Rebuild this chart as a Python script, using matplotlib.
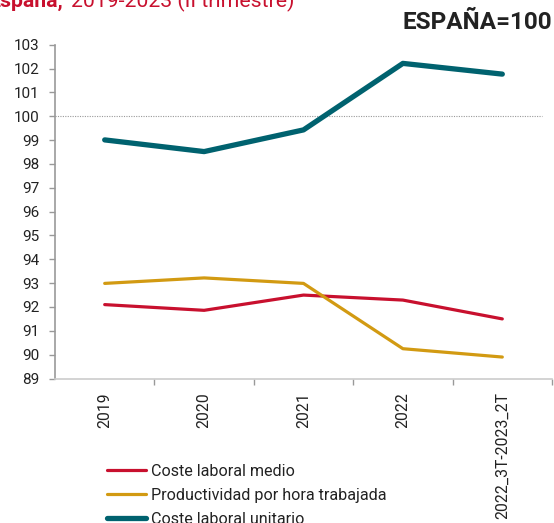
import matplotlib
matplotlib.use("Agg")
import matplotlib.pyplot as plt
import numpy as np

plt.rcParams['font.family'] = ['Roboto', 'DejaVu Sans']

categories = ["2019", "2020", "2021", "2022", "2022_3T-2023_2T"]
coste_medio = [92.10, 91.86, 92.50, 92.29, 91.50]
productividad = [92.99, 93.22, 92.99, 90.25, 89.90]
coste_unitario = [99.01, 98.52, 99.43, 102.22, 101.77]
yticks = list(range(89, 104))

RED = "#C8102E"
GOLD = "#D29A12"
TEAL = "#00626F"

W, H = 554, 523
fig = plt.figure(figsize=(W/100, H/100), dpi=100)
ax = fig.add_axes([55/W, 1-378.5/H, (552-55)/W, (378.5-44.8)/H])

x = np.arange(len(categories))
ax.plot(x, coste_medio, color=RED, lw=2.3, solid_capstyle='round', label="Coste laboral medio")
ax.plot(x, productividad, color=GOLD, lw=2.3, solid_capstyle='round', label="Productividad por hora trabajada")
ax.plot(x, coste_unitario, color=TEAL, lw=3.8, solid_capstyle='round', label="Coste laboral unitario")

ax.axhline(100, xmin=0, xmax=0.98, color="#999999", lw=0.8, ls=(0, (1, 1.2)), zorder=0)

ax.set_xlim(-0.5, len(categories) - 0.5)
ax.set_ylim(89, 103)
ax.set_yticks(yticks)
ax.set_yticklabels([str(v) for v in yticks])

ax.set_xticks(np.arange(len(categories)) + 0.5)
ax.set_xticklabels([])
ax.set_xticks(x, minor=True)
ax.set_xticklabels(categories, minor=True, rotation=90, fontsize=11.3, color="#222222")
ax.tick_params(axis='x', which='minor', length=0, pad=10)
ax.tick_params(axis='x', which='major', length=4, color="#999999", width=1)
ax.tick_params(axis='y', length=4, color="#999999", width=1, labelsize=11, labelcolor="#222222", pad=7)

for s in ['top', 'right']:
    ax.spines[s].set_visible(False)
ax.spines['left'].set_color("#999999")
ax.spines['bottom'].set_color("#cccccc")
ax.spines['left'].set_linewidth(1.2)
ax.spines['bottom'].set_linewidth(1.2)

fig.legend(loc='upper left', bbox_to_anchor=(107/W, 1-464/H), frameon=False,
           borderpad=0, borderaxespad=0, handlelength=2.4, handletextpad=0.32,
           labelspacing=0.55, prop={'size': 11.6}, labelcolor="#222222")

# Title (cut off at the top edge, as in the reference)
fig.canvas.draw()
r = fig.canvas.get_renderer()
tE = fig.text(0, 0, "E", fontsize=15.3, fontweight='bold')
wE = tE.get_window_extent(r).width
tE.remove()
base_y = 1 - 7/H
t1 = fig.text((1 - wE)/W, base_y, "España,", color=RED, fontsize=15.3, fontweight='bold',
              va='baseline', ha='left')
bb = t1.get_window_extent(r)
fig.text((bb.x1 + 7)/W, base_y, "2019-2023 (II trimestre)", color=RED, fontsize=15.3,
         va='baseline', ha='left')

fig.text(552/W, 1-29/H, "ESPAÑA=100", color="#222222", fontsize=17.5, fontweight='bold',
         ha='right', va='baseline')

fig.savefig("out.png", dpi=100)
